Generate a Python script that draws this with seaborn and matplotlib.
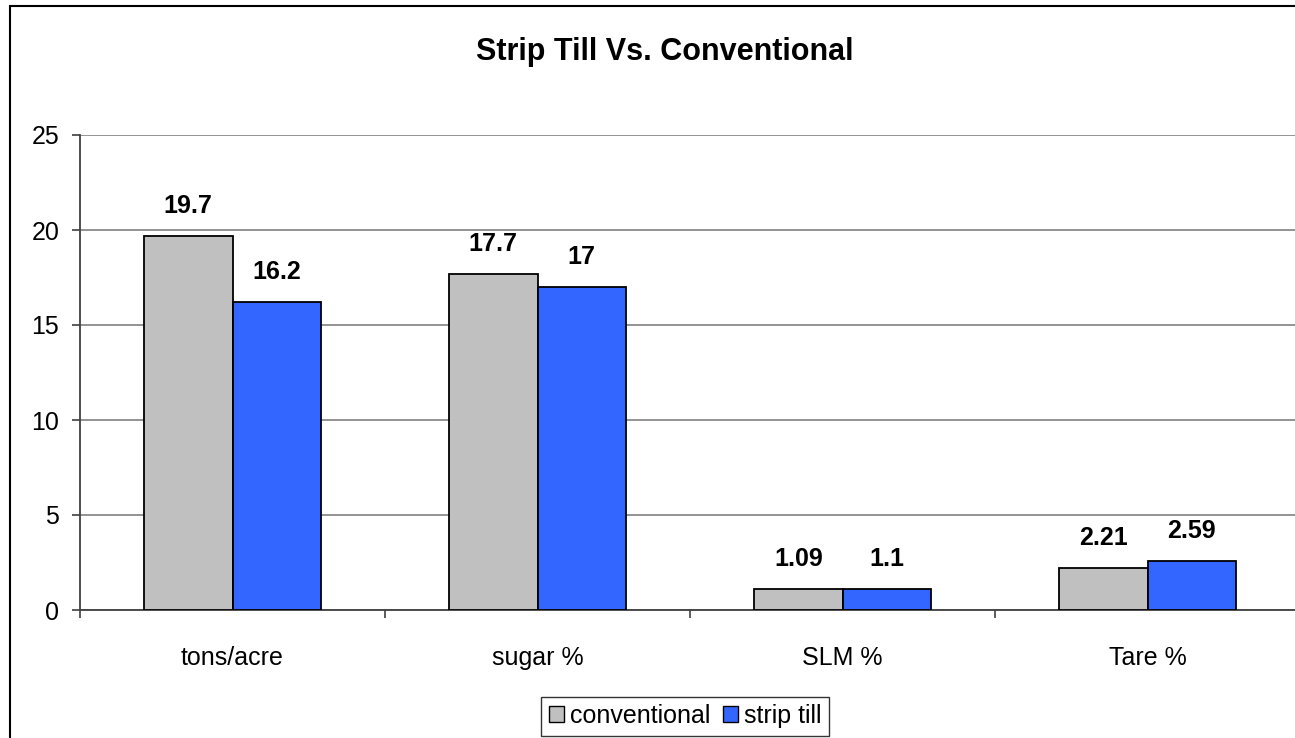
import matplotlib
matplotlib.use("Agg")
import matplotlib.pyplot as plt
from matplotlib.patches import Rectangle, Patch
from matplotlib.ticker import FixedLocator
import seaborn as sns
import pandas as pd

categories = ["tons/acre", "sugar %", "SLM %", "Tare %"]
conventional = [19.7, 17.7, 1.09, 2.21]
strip_till = [16.2, 17.0, 1.1, 2.59]
series_names = ["conventional", "strip till"]
value_labels = [["19.7", "17.7", "1.09", "2.21"], ["16.2", "17", "1.1", "2.59"]]
y_ticks = [0, 5, 10, 15, 20, 25]

df = pd.DataFrame({
    "category": categories * 2,
    "value": conventional + strip_till,
    "series": [series_names[0]] * 4 + [series_names[1]] * 4,
})

sns.set_theme(style="white")
plt.rcParams["font.family"] = ["Liberation Sans", "DejaVu Sans"]
plt.rcParams["text.color"] = "black"

colors = {"conventional": "#C0C0C0", "strip till": "#3366FF"}

fig = plt.figure(figsize=(12.95, 7.38), dpi=100)
ax = fig.add_axes([80 / 1295, 1 - 610 / 738, 1 - 80 / 1295 + 0.004, (610 - 135) / 738])

sns.barplot(data=df, x="category", y="value", hue="series", order=categories,
            hue_order=series_names, palette=colors, saturation=1, width=0.58, ax=ax,
            edgecolor="black", linewidth=1.3, legend=False, zorder=3)

for container, labels in zip(ax.containers, value_labels):
    ax.bar_label(container, labels=labels, padding=13, fontsize=18,
                 fontweight="bold", color="black")

ax.set_ylim(0, 25)
ax.set_xlim(-0.5, len(categories) - 0.5)
ax.set_yticks(y_ticks)
ax.yaxis.grid(True, color="#808080", linewidth=1.2, zorder=0)
ax.set_axisbelow(True)
ax.set_xlabel("")
ax.set_ylabel("")

for side in ["top", "right"]:
    ax.spines[side].set_visible(False)
for side in ["left", "bottom"]:
    ax.spines[side].set_color("#404040")
    ax.spines[side].set_linewidth(1.3)

ax.tick_params(axis="y", which="major", left=True, length=6, width=1.2,
               color="#404040", labelsize=18, labelcolor="black", pad=9)
ax.tick_params(axis="x", which="major", bottom=False, labelsize=18,
               labelcolor="black", pad=20)
ax.xaxis.set_minor_locator(FixedLocator([i - 0.5 for i in range(len(categories) + 1)]))
ax.tick_params(axis="x", which="minor", bottom=True, length=6, width=1.2,
               color="#404040")

fig.suptitle("Strip Till Vs. Conventional", x=665 / 1295, y=1 - 52 / 738,
             va="center", fontsize=22, fontweight="bold", color="black")

# Chart-area frame
fig.patches.append(Rectangle((10 / 1295, -0.05), 1.2, 1 - 6 / 738 + 0.05,
                             transform=fig.transFigure, fill=False,
                             edgecolor="black", linewidth=1.5, zorder=10))

handles = [Patch(facecolor=colors[s], edgecolor="black", linewidth=1.0) for s in series_names]
leg = fig.legend(handles, series_names, loc="lower center",
                 bbox_to_anchor=(685 / 1295, 0.0), ncol=2, fontsize=18,
                 frameon=True, fancybox=False, handlelength=0.6, handleheight=0.6,
                 handletextpad=0.25, columnspacing=0.5, borderpad=0.3,
                 borderaxespad=0.1)
leg.get_frame().set_edgecolor("black")
leg.get_frame().set_linewidth(1.0)

fig.savefig("out.png", dpi=100, facecolor="white")
